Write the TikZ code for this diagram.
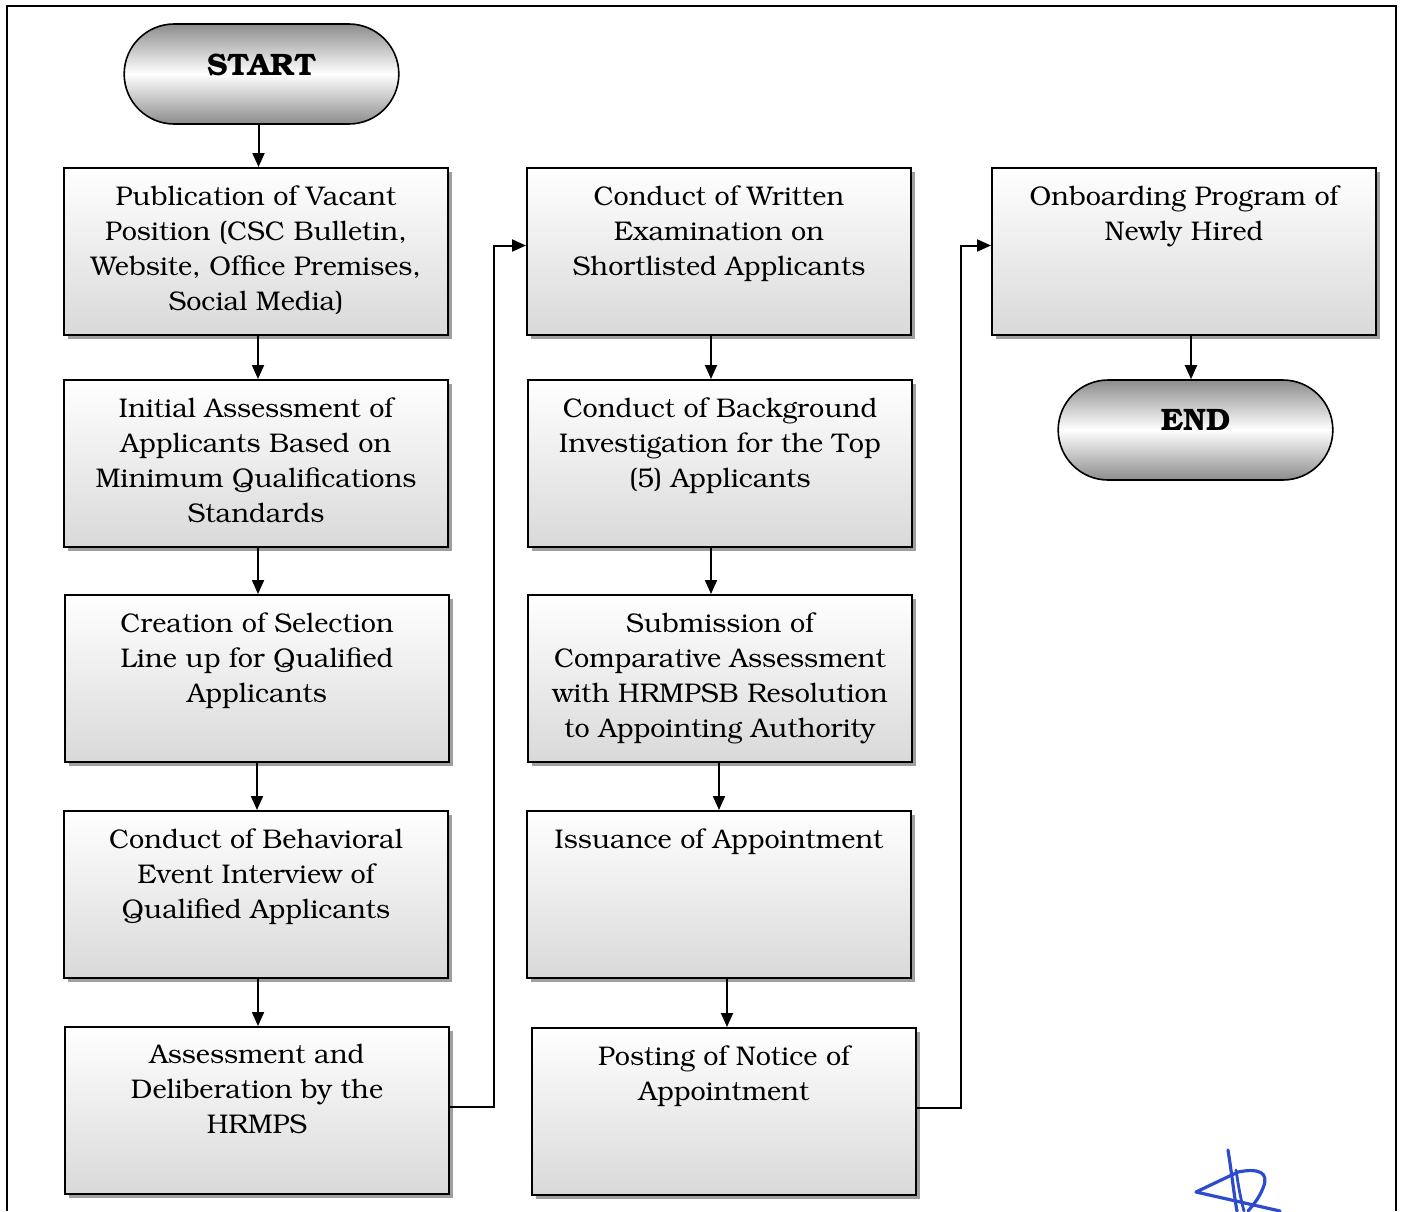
\documentclass[tikz,border=0pt]{standalone}
\usepackage[T1]{fontenc}
\usepackage{bookman}
\usetikzlibrary{arrows.meta}
\usetikzlibrary{shapes.misc}
\usetikzlibrary{shadows}

\definecolor{sigblue}{RGB}{45,75,205}

% text sits at the top of each step box
\newcommand{\toptext}[1]{\parbox[c][66pt][t]{188pt}{\centering #1}}

\tikzset{
  stepbox/.style={draw, line width=1pt, rectangle, inner sep=0pt,
    minimum width=192pt, minimum height=83.5pt,
    top color=white, bottom color=gray!30,
    drop shadow={shadow xshift=1.8pt, shadow yshift=-1.8pt, fill=gray!75, opacity=1},
    font=\fontsize{13.5}{17.5}\selectfont},
  term/.style={rounded rectangle, draw, line width=0.8pt,
    minimum width=144pt, minimum height=50pt,
    top color=gray!90, bottom color=gray!90, middle color=white,
    font=\fontsize{15.5}{18}\selectfont\bfseries},
  flow/.style={-{Triangle[length=7pt,width=6pt]}, line width=1pt},
}

\begin{document}
\begin{tikzpicture}[x=0.5pt, y=-0.5pt]
\useasboundingbox (0,0) rectangle (1403,1211);

% outer frame
\draw[line width=1pt] (7,1211) -- (7,6) -- (1396,6) -- (1396,1211);

% First, the terminators (label sits a bit high)
\node[term] (start) at (261.5,74) {\raisebox{10pt}{START}};
\node[term] (end) at (1195.5,430) {\raisebox{10pt}{END}};

% left column
\node[stepbox] (pub) at (256,251.5) {\toptext{Publication of Vacant\\Position (CSC Bulletin,\\Website, Office Premises,\\Social Media)}};
\node[stepbox] (initial) at (256,463.5) {\toptext{Initial Assessment of\\Applicants Based on\\Minimum Qualifications\\Standards}};
\node[stepbox] (lineup) at (257,678.5) {\toptext{Creation of Selection\\Line up for Qualified\\Applicants}};
\node[stepbox] (bei) at (256,894.5) {\toptext{Conduct of Behavioral\\Event Interview of\\Qualified Applicants}};
\node[stepbox] (hrmps) at (257,1110.5) {\toptext{Assessment and\\Deliberation by the\\HRMPS}};

% middle column
\node[stepbox] (written) at (719,251.5) {\toptext{Conduct of Written\\Examination on\\Shortlisted Applicants}};
\node[stepbox] (bi) at (720,463.5) {\toptext{Conduct of Background\\Investigation for the Top\\(5) Applicants}};
\node[stepbox] (compar) at (720,678.5) {\toptext{Submission of\\Comparative Assessment\\with HRMPSB Resolution\\to Appointing Authority}};
\node[stepbox] (issue) at (719,894.5) {\toptext{Issuance of Appointment}};
\node[stepbox] (notice) at (724,1111.5) {\toptext{Posting of Notice of\\Appointment}};

% right column
\node[stepbox] (onboard) at (1184,251.5) {\toptext{Onboarding Program of\\Newly Hired}};

% Now the arrows
\draw[flow] ([xshift=-1.5pt]start.south) -- ([xshift=-1.5pt]start.south |- pub.north);
\draw[flow] ([xshift=1pt]pub.south) -- ([xshift=1pt]pub.south |- initial.north);
\draw[flow] ([xshift=1pt]initial.south) -- ([xshift=1pt]initial.south |- lineup.north);
\draw[flow] (lineup.south) -- (lineup.south |- bei.north);
\draw[flow] ([xshift=1pt]bei.south) -- ([xshift=1pt]bei.south |- hrmps.north);
\draw[flow] ([yshift=2pt]hrmps.east) -- ++(44,0) |- ([yshift=3pt]written.west);
\draw[flow] ([xshift=-4pt]written.south) -- ([xshift=-4pt]written.south |- bi.north);
\draw[flow] ([xshift=-4.5pt]bi.south) -- ([xshift=-4.5pt]bi.south |- compar.north);
\draw[flow] ([xshift=-0.5pt]compar.south) -- ([xshift=-0.5pt]compar.south |- issue.north);
\draw[flow] ([xshift=4pt]issue.south) -- ([xshift=4pt]issue.south |- notice.north);
\draw[flow] ([yshift=2pt]notice.east) -- ++(44,0) |- ([yshift=3pt]onboard.west);
\draw[flow] ([xshift=3.5pt]onboard.south) -- ([xshift=3.5pt]onboard.south |- end.north);

% signature
\draw[sigblue, line width=1.6pt, line cap=round, line join=round]
  (1228,1150) .. controls (1232,1175) and (1234,1195) .. (1237,1211);
\draw[sigblue, line width=1.4pt, line cap=round]
  (1236,1170) .. controls (1239,1190) and (1241,1200) .. (1244,1211);
\draw[sigblue, line width=1.6pt, line cap=round, line join=round]
  (1280,1211) -- (1196,1192) -- (1238,1172) .. controls (1258,1168) and (1270,1172) .. (1263,1188)
  .. controls (1259,1198) and (1254,1204) .. (1248,1211);
\end{tikzpicture}
\end{document}
